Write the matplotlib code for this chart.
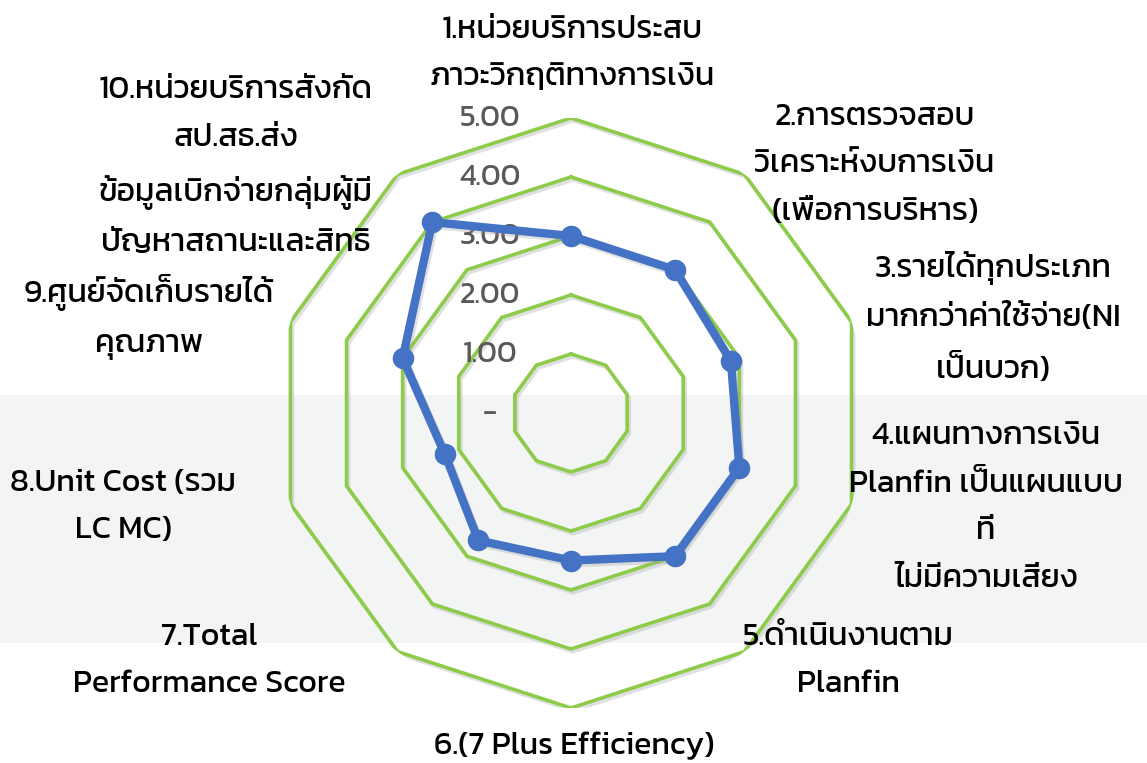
import numpy as np
import matplotlib
matplotlib.use("Agg")
import matplotlib.pyplot as plt
import matplotlib.patheffects as pe
from matplotlib.transforms import offset_copy
from matplotlib.patches import Rectangle

# ---- data ----
categories = [
    "1.หน่วยบริการประสบ\nภาวะวิกฤติทางการเงิน",
    "2.การตรวจสอบ\nวิเคราะห์งบการเงิน\n(เพื่อการบริหาร)",
    "3.รายได้ทุกประเภท\nมากกว่าค่าใช้จ่าย(NI\nเป็นบวก)",
    "4.แผนทางการเงิน\nPlanfin เป็นแผนแบบ\nที่\nไม่มีความเสี่ยง",
    "5.ดำเนินงานตาม\nPlanfin",
    "6.(7 Plus Efficiency)",
    "7.Total\nPerformance Score",
    "8.Unit Cost (รวม\nLC MC)",
    "9.ศูนย์จัดเก็บรายได้\nคุณภาพ",
    "10.หน่วยบริการสังกัด\nสป.สธ.ส่ง\nข้อมูลเบิกจ่ายกลุ่มผู้มี\nปัญหาสถานะและสิทธิ",
]
values = [3.00, 3.00, 2.85, 3.00, 3.00, 2.50, 2.67, 2.25, 3.00, 4.00]
ring_levels = [1, 2, 3, 4, 5]
tick_values = [0, 1, 2, 3, 4, 5]
tick_labels = ["-", "1.00", "2.00", "3.00", "4.00", "5.00"]

# ---- style ----
W, H = 1147, 763
FONT = ["Kanit", "DejaVu Sans"]
GREEN = "#8DCB4A"
BLUE = "#4472C4"
FS = 23

fig = plt.figure(figsize=(W / 100, H / 100), dpi=100)
fig.patch.set_facecolor("white")

# faint background band of the watermark
fig.patches.append(Rectangle((0, 1 - 643 / H), 1, (643 - 395) / H,
                             transform=fig.transFigure, facecolor="#F3F5F5",
                             edgecolor="none", zorder=-10))

cx, cy, R = 571, 413, 295
ax = fig.add_axes([(cx - R) / W, (H - cy - R) / H, 2 * R / W, 2 * R / H],
                  projection="polar")
ax.set_theta_zero_location("N")
ax.set_theta_direction(-1)
ax.set_ylim(0, 5)
ax.grid(False)
ax.spines["polar"].set_visible(False)
ax.set_xticks([])
ax.set_yticks([])
ax.patch.set_alpha(0)

n = len(categories)
angles = np.linspace(0, 2 * np.pi, n, endpoint=False)
ang_c = np.append(angles, angles[0])

shadow = [pe.SimpleLineShadow(offset=(1.5, -2), shadow_color="#9a9a9a", alpha=0.3), pe.Normal()]

for r in ring_levels:
    ax.plot(ang_c, [r] * (n + 1), color=GREEN, lw=2.6, zorder=2,
            path_effects=shadow, solid_joinstyle="miter")

vals_c = values + values[:1]
ax.plot(ang_c, vals_c, color=BLUE, lw=6, zorder=4, path_effects=shadow,
        solid_joinstyle="round")
ax.plot(angles, values, "o", color=BLUE, ms=14.5, zorder=5)

# radial tick labels
tr = offset_copy(ax.transData, fig=fig, x=-81, y=0, units="dots")
for v, lab in zip(tick_values, tick_labels):
    ax.text(0, v, lab, transform=tr, ha="center", va="center",
            fontsize=FS - 1, color="#595959", family=FONT)

# category labels (pixel centres of each label block)
label_pos = [(572, 54), (875, 165), (993, 318), (986, 508), (848, 661),
             (574, 747), (209, 661), (123, 507), (149, 317), (236, 167)]
for lab, (x, y) in zip(categories, label_pos):
    fig.text(x / W, 1 - y / H, lab, ha="center", va="center",
             multialignment="center", fontsize=FS, color="black",
             family=FONT, linespacing=1.85)

fig.savefig("out.png", dpi=100)
